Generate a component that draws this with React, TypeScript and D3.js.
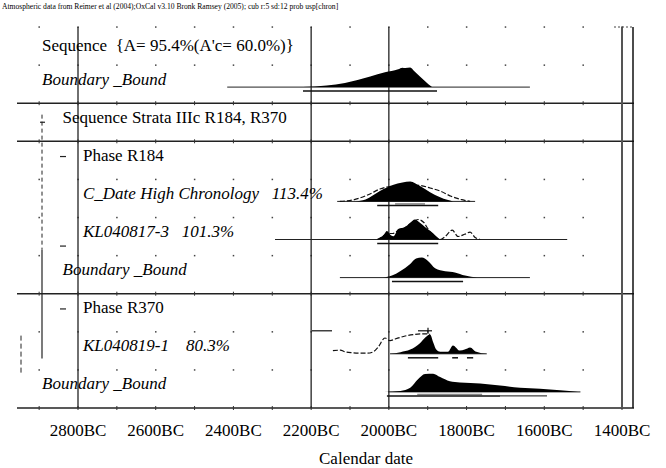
import * as d3 from "d3";

// OxCal style multiplot: sequence of boundaries / phases / dates

const titleText =
  "Atmospheric data from Reimer et al (2004);OxCal v3.10 Bronk Ramsey (2005); cub r:5 sd:12 prob usp[chron]";

const axisYears = [2800, 2600, 2400, 2200, 2000, 1800, 1600, 1400];
const gridYears = [2900, 2800, 2700, 2600, 2500, 2400, 2300, 2200, 2100, 2000, 1900, 1800, 1700, 1600, 1500, 1400];
const frameYears = [2800, 2200, 2000, 1400];

const rowLabels = [
  "Sequence  {A= 95.4%(A'c= 60.0%)}",
  "Boundary _Bound",
  "Sequence Strata IIIc R184, R370",
  "Phase R184",
  "C_Date High Chronology   113.4%",
  "KL040817-3   101.3%",
  "Boundary _Bound",
  "Phase R370",
  "KL040819-1    80.3%",
  "Boundary _Bound",
];
const rowItalic = [false, true, false, false, true, true, true, false, true, true];
const rowIndent = [0, 0, 1, 2, 2, 2, 1, 2, 2, 0];
const solidRows = [2, 3, 7, 10];

// distributions (calendar years BC, relative probability)
const bound1Years = [2221, 2160, 2113, 2048, 2010, 1976, 1965, 1958, 1945, 1935, 1920, 1899, 1889];
const bound1Prob = [0, 0.08, 0.21, 0.53, 0.74, 0.89, 0.97, 0.95, 0.98, 0.8, 0.53, 0.16, 0];
const bound1Line = [2416, 1637];
const bound1Range = [[2221, 1876]];

const cdateYears = [2087, 2060, 2023, 1990, 1965, 1945, 1920, 1894, 1868, 1850, 1835];
const cdateProb = [0, 0.1, 0.52, 0.82, 0.95, 1, 0.77, 0.46, 0.21, 0.08, 0];
const cdatePriorYears = [2126, 2087, 2050, 2023, 1990, 1960, 1945, 1920, 1894, 1868, 1840, 1815, 1791];
const cdatePriorProb = [0, 0.1, 0.36, 0.62, 0.77, 0.82, 0.82, 0.8, 0.67, 0.52, 0.26, 0.1, 0];
const cdateLine = [2133, 1778];
const cdateRange = [[2030, 1873]];
const cdateRange68 = [[1984, 1907]];

const kl17Years = [2030, 2012, 2005, 1995, 1988, 1976, 1958, 1945, 1933, 1920, 1907, 1890, 1881, 1868];
const kl17Prob = [0, 0.26, 0.42, 0.21, 0.16, 0.53, 0.63, 0.84, 1, 0.84, 0.63, 0.37, 0.21, 0];
const kl17PriorYears = [2030, 2012, 2005, 1990, 1976, 1958, 1940, 1925, 1910, 1900, 1890, 1878, 1868, 1855, 1837, 1822, 1805, 1791, 1778, 1765];
const kl17PriorProb = [0, 0.2, 0.3, 0.3, 0.45, 0.6, 0.85, 1, 0.85, 0.55, 0.3, 0.08, 0, 0.15, 0.47, 0.15, 0.26, 0.37, 0.1, 0];
const kl17Line = [2293, 1541];
const kl17Range = [[2030, 1873]];

const bound2Years = [2015, 1992, 1971, 1945, 1930, 1915, 1900, 1881, 1855, 1830, 1804, 1773];
const bound2Prob = [0, 0.1, 0.32, 0.68, 0.95, 1, 0.84, 0.47, 0.32, 0.26, 0.1, 0];
const bound2Line = [2126, 1637];
const bound2Range = [[1992, 1809]];

const kl19Years = [1997, 1970, 1945, 1920, 1905, 1894, 1885, 1878, 1868, 1848, 1835, 1817, 1805, 1791, 1775, 1748];
const kl19Prob = [0, 0.08, 0.21, 0.53, 0.84, 0.97, 0.53, 0.21, 0.1, 0.1, 0.42, 0.16, 0.21, 0.32, 0.1, 0];
const kl19PriorYears = [2144, 2125, 2113, 2095, 2074, 2055, 2040, 2028, 2010, 1997, 1984, 1958, 1933, 1907, 1894];
const kl19PriorProb = [0.16, 0.18, 0.1, 0.05, 0.03, 0.03, 0.1, 0.32, 0.79, 0.66, 0.74, 0.89, 0.97, 1, 0.97];
const kl19Line = [1997, 1748];
const kl19Range = [[1951, 1873], [1837, 1822], [1799, 1783]];

const bound3Years = [2013, 1970, 1945, 1925, 1907, 1886, 1868, 1843, 1817, 1790, 1765, 1714, 1662, 1611, 1559, 1513];
const bound3Prob = [0, 0.05, 0.21, 0.63, 0.89, 0.91, 0.74, 0.53, 0.47, 0.45, 0.42, 0.32, 0.21, 0.16, 0.08, 0];
const bound3Line = [2002, 1507];
const bound3Range = [[2005, 1714], [1714, 1593]];
const bound3Range68 = [[1927, 1760]];

const zip = (a: number[], b: number[]) => a.map((v, i) => [v, b[i]] as [number, number]);

const dists = [
  { row: 1, fill: zip(bound1Years, bound1Prob), prior: null, line: bound1Line, r95: bound1Range, r68: [] as number[][] },
  { row: 4, fill: zip(cdateYears, cdateProb), prior: zip(cdatePriorYears, cdatePriorProb), line: cdateLine, r95: cdateRange, r68: cdateRange68 },
  { row: 5, fill: zip(kl17Years, kl17Prob), prior: zip(kl17PriorYears, kl17PriorProb), line: kl17Line, r95: kl17Range, r68: [] as number[][] },
  { row: 6, fill: zip(bound2Years, bound2Prob), prior: null, line: bound2Line, r95: bound2Range, r68: [] as number[][] },
  { row: 8, fill: zip(kl19Years, kl19Prob), prior: zip(kl19PriorYears, kl19PriorProb), line: kl19Line, r95: kl19Range, r68: [] as number[][] },
  { row: 9, fill: zip(bound3Years, bound3Prob), prior: null, line: bound3Line, r95: bound3Range, r68: bound3Range68 },
];

export default function App() {
  const W = 666, H = 468;
  const left = 17, right = 634;
  const x = d3.scaleLinear().domain([2800, 1400]).range([78, 622]);
  const rowY = d3.scaleLinear().domain([0, 10]).range([27, 408]);
  const h = d3.scaleLinear().domain([0, 1]).range([0, 20]);
  const font = "'Liberation Serif', 'Times New Roman', serif";

  const area = (base: number) =>
    d3.area<[number, number]>()
      .x(d => x(d[0]))
      .y0(base)
      .y1(d => base - h(d[1]))
      .curve(d3.curveMonotoneX);
  const line = (base: number) =>
    d3.line<[number, number]>()
      .x(d => x(d[0]))
      .y(d => base - h(d[1]))
      .curve(d3.curveMonotoneX);

  const rows = d3.range(0, 11);

  return (
    <svg width={W} height={H} style={{ display: "block", position: "absolute", left: 0, top: 0, background: "#fff" }}>
      <text x={2} y={9} fontFamily={font} fontSize={7.6} fill="#000">{titleText}</text>

      {/* dotted grid rows */}
      {rows.filter(r => !solidRows.includes(r)).map(r =>
        gridYears.map(yr => (
          <rect key={`g${r}-${yr}`} x={x(yr) - 0.7} y={rowY(r) - 0.7} width={1.5} height={1.5} fill="#444" />
        ))
      )}
      {/* solid row separators */}
      {solidRows.map(r => (
        <line key={`s${r}`} x1={left} x2={right} y1={rowY(r)} y2={rowY(r)} stroke="#222" strokeWidth={1.4} />
      ))}
      {solidRows.map(r =>
        gridYears.map(yr => (
          <line key={`t${r}-${yr}`} x1={x(yr)} x2={x(yr)} y1={rowY(r) - 2} y2={rowY(r) + 2} stroke="#333" strokeWidth={1} />
        ))
      )}
      {/* vertical frame lines */}
      {frameYears.map(yr => (
        <line key={`v${yr}`} x1={x(yr)} x2={x(yr)} y1={rowY(0)} y2={rowY(10)}
          stroke={yr === 1400 ? "#555" : "#222"} strokeWidth={yr === 1400 ? 2 : 1.3} />
      ))}
      <line x1={right - 1} x2={right - 1} y1={rowY(0)} y2={rowY(10)} stroke="#111" strokeWidth={1.5} />
      <line x1={614} x2={right} y1={rowY(0)} y2={rowY(0)} stroke="#444" strokeWidth={1} strokeDasharray="2,2" />

      {/* tree structure at left */}
      <line x1={42} x2={42} y1={rowY(2.3)} y2={rowY(5.85)} stroke="#222" strokeWidth={1} strokeDasharray="4,3" />
      <line x1={42} x2={42} y1={rowY(5.85)} y2={rowY(8.7)} stroke="#222" strokeWidth={1.2} />
      <line x1={21} x2={21} y1={rowY(8.1)} y2={rowY(9.1)} stroke="#222" strokeWidth={1} strokeDasharray="5,3" />
      <line x1={40} x2={45} y1={rowY(2.5)} y2={rowY(2.5)} stroke="#222" strokeWidth={1.2} />
      {[3.4, 5.75, 7.4].map(r => (
        <line key={`m${r}`} x1={60} x2={66} y1={rowY(r)} y2={rowY(r)} stroke="#222" strokeWidth={1.2} />
      ))}

      {/* distributions */}
      {dists.map(d => {
        const base = rowY(d.row) + 22;
        return (
          <g key={`d${d.row}`}>
            <line x1={x(d.line[0])} x2={x(d.line[1])} y1={base} y2={base} stroke="#222" strokeWidth={1} />
            {d.prior && (
              <path d={line(base)(d.prior) || ""} fill="none" stroke="#111" strokeWidth={1.2} strokeDasharray="5,2" />
            )}
            <path d={area(base)(d.fill) || ""} fill="#000" />
            {d.r68.map((r, i) => (
              <line key={`a${i}`} x1={x(r[0])} x2={x(r[1])} y1={base + 2.5} y2={base + 2.5} stroke="#888" strokeWidth={1.5} />
            ))}
            {d.r95.map((r, i) => (
              <line key={`b${i}`} x1={x(r[0])} x2={x(r[1])} y1={base + 4} y2={base + 4} stroke="#111"
                strokeWidth={i === 1 && d.row === 9 ? 1 : 1.5} />
            ))}
          </g>
        );
      })}
      {/* small markers in KL040819-1 row */}
      <line x1={312} x2={332} y1={rowY(8) - 1} y2={rowY(8) - 1} stroke="#111" strokeWidth={1.2} />
      <line x1={418} x2={432} y1={rowY(8) - 1} y2={rowY(8) - 1} stroke="#111" strokeWidth={1.2} />
      <line x1={428} x2={428} y1={rowY(8) - 4} y2={rowY(8) + 2} stroke="#111" strokeWidth={1.2} />

      {/* row labels */}
      {rowLabels.map((t, i) => (
        <text key={`l${i}`} x={42 + 20.5 * rowIndent[i]} y={i === 0 ? rowY(0) + 24 : rowY(i) + 19.5}
          fontFamily={font} fontSize={17} fontStyle={rowItalic[i] ? "italic" : "normal"} xmlSpace="preserve"
          style={{ whiteSpace: "pre" }}>{t}</text>
      ))}

      {/* axis */}
      {axisYears.map(yr => (
        <text key={`x${yr}`} x={x(yr)} y={436} textAnchor="middle" fontFamily={font} fontSize={17}>{`${yr}BC`}</text>
      ))}
      <text x={366} y={464} textAnchor="middle" fontFamily={font} fontSize={17}>Calendar date</text>
    </svg>
  );
}
